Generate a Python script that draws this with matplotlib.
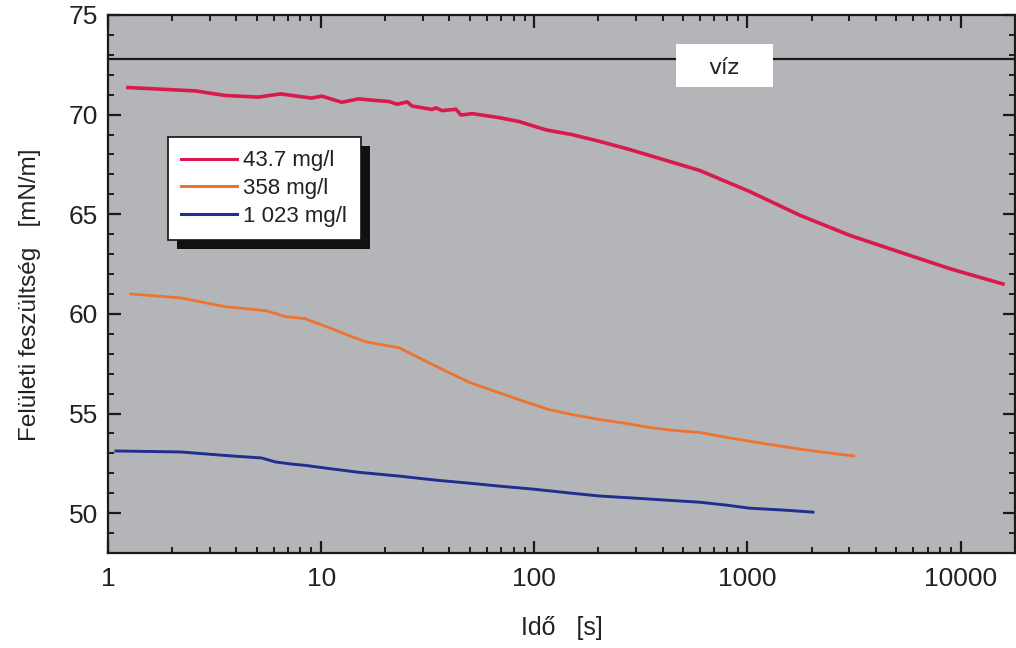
import matplotlib
matplotlib.use("Agg")
import matplotlib.pyplot as plt
from matplotlib.patches import Rectangle
from matplotlib.ticker import LogLocator, FixedLocator, MultipleLocator, FuncFormatter

plt.rcParams["font.family"] = ["Liberation Sans", "DejaVu Sans"]

# ---- data ----
labels = ["43.7 mg/l", "358 mg/l", "1 023 mg/l"]
colors = ["#d81a4c", "#ec7430", "#202f8e"]

t_red = [1.24, 2.57, 3.55, 5.08, 6.45, 9.02, 10.06, 12.5, 15.0, 18.05, 20.8, 22.7,
         25.3, 26.7, 33.1, 34.6, 36.9, 42.9, 45.3, 51.1, 68.4, 85.0, 113.9, 150,
         202, 280, 387, 596, 1020, 1770, 3040, 5190, 8900, 15800]
y_red = [71.36, 71.19, 70.96, 70.88, 71.04, 70.83, 70.93, 70.62, 70.79, 70.71, 70.66, 70.52,
         70.64, 70.43, 70.26, 70.34, 70.2, 70.27, 69.98, 70.05, 69.85, 69.65, 69.23, 69.0,
         68.66, 68.25, 67.8, 67.2, 66.15, 64.94, 63.93, 63.1, 62.27, 61.5]

t_orange = [1.28, 2.2, 3.55, 5.5, 6.8, 8.4, 11.2, 13.9, 16.2, 23.2, 30, 39.8, 50, 68,
            90, 117, 150, 202, 270, 347, 450, 596, 850, 1230, 1800, 2500, 3150]
y_orange = [61.0, 60.8, 60.36, 60.16, 59.86, 59.76, 59.26, 58.86, 58.6, 58.3, 57.7, 57.05, 56.55, 56.05,
            55.6, 55.2, 54.95, 54.7, 54.5, 54.3, 54.15, 54.05, 53.75, 53.47, 53.2, 53.0, 52.87]

t_blue = [1.09, 2.2, 3.8, 5.25, 6.1, 7.3, 8.4, 10.5, 15, 23.2, 35, 50, 68, 100, 150,
          202, 300, 420, 596, 800, 1020, 1500, 2030]
y_blue = [53.12, 53.07, 52.87, 52.77, 52.57, 52.46, 52.4, 52.26, 52.05, 51.86, 51.65, 51.5, 51.36, 51.2, 51.0,
          50.86, 50.75, 50.65, 50.55, 50.4, 50.25, 50.15, 50.05]

water_level = 72.8
water_label = "víz"

xlabel = "Idő   [s]"
ylabel = "Felületi feszültség   [mN/m]"
yticks = [50, 55, 60, 65, 70, 75]
xticks = [1, 10, 100, 1000, 10000]

# ---- figure ----
W, H = 1016, 648
fig = plt.figure(figsize=(W / 100, H / 100), dpi=100, facecolor="white")
L, R, T, B = 108, 1015, 15, 553
ax = fig.add_axes([L / W, 1 - B / H, (R - L) / W, (B - T) / H])
ax.set_facecolor("#b3b5b9")

series = [(t_red, y_red, 2.6), (t_orange, y_orange, 2.0), (t_blue, y_blue, 2.1)]
handles = []
for (tx, ty, lw), c, lab in zip(series, colors, labels):
    h, = ax.plot(tx, ty, color=c, lw=lw, label=lab, zorder=3)
    handles.append(h)

ax.axhline(water_level, color="#1a1a1a", lw=1.6, zorder=2)

ax.set_xscale("log")
ax.set_xlim(1, 18000)
ax.set_ylim(48, 75)

ax.xaxis.set_major_locator(FixedLocator(xticks))
ax.xaxis.set_minor_locator(LogLocator(base=10, subs=range(2, 10)))
ax.xaxis.set_major_formatter(FuncFormatter(lambda v, p: f"{v:g}"))
ax.yaxis.set_major_locator(FixedLocator(yticks))
ax.yaxis.set_minor_locator(MultipleLocator(1))

for s in ax.spines.values():
    s.set_linewidth(1.6)
    s.set_color("#1a1a1a")

ax.tick_params(which="both", direction="in", top=True, right=True, colors="#1a1a1a")
ax.tick_params(which="major", length=9, width=1.6, labelsize=19, labelcolor="#222222")
ax.tick_params(which="minor", length=4.5, width=1.4)
ax.tick_params(axis="x", which="major", pad=10)
ax.tick_params(axis="y", which="major", pad=7)

ax.set_xlabel(xlabel, fontsize=18, color="#222222")
ax.set_ylabel(ylabel, fontsize=17.5, color="#222222")
ax.xaxis.set_label_coords(0.5, -0.118)
ax.yaxis.set_label_coords(-0.074, 0.48)

# water label box
bx0, by0, bw, bh = 0.626, 0.866, 0.107, 0.080
ax.add_patch(Rectangle((bx0, by0), bw, bh, transform=ax.transAxes,
                       facecolor="white", edgecolor="none", zorder=4))
ax.text(bx0 + bw / 2, by0 + bh / 2 - 0.005, water_label, fontsize=16, family="DejaVu Sans",
        ha="center", va="center", color="#222222", zorder=5, transform=ax.transAxes)

# legend with black drop shadow
leg = ax.legend(handles=handles, loc="upper left", bbox_to_anchor=(0.066, 0.773),
                borderaxespad=0, frameon=True, fancybox=False,
                handlelength=2.5, handletextpad=0.3, labelspacing=0.3,
                borderpad=0.6, prop={"family": "Liberation Sans", "size": 16})
leg.get_frame().set_edgecolor("#111111")
leg.get_frame().set_linewidth(1.2)
leg.get_frame().set_facecolor("white")
leg.get_frame().set_alpha(1)
leg.set_zorder(6)
for txt in leg.get_texts():
    txt.set_color("#222222")
for ln in leg.get_lines():
    ln.set_linewidth(2.2)

fig.canvas.draw()
bb = leg.get_window_extent()
inv = ax.transAxes.inverted()
(x0, y0), (x1, y1) = inv.transform([[bb.x0 + 9, bb.y0 - 9], [bb.x1 + 9, bb.y1 - 9]])
ax.add_patch(Rectangle((x0, y0), x1 - x0, y1 - y0, transform=ax.transAxes,
                       facecolor="#111111", edgecolor="none", zorder=5.5))

fig.savefig("out.png", dpi=100, facecolor="white")
